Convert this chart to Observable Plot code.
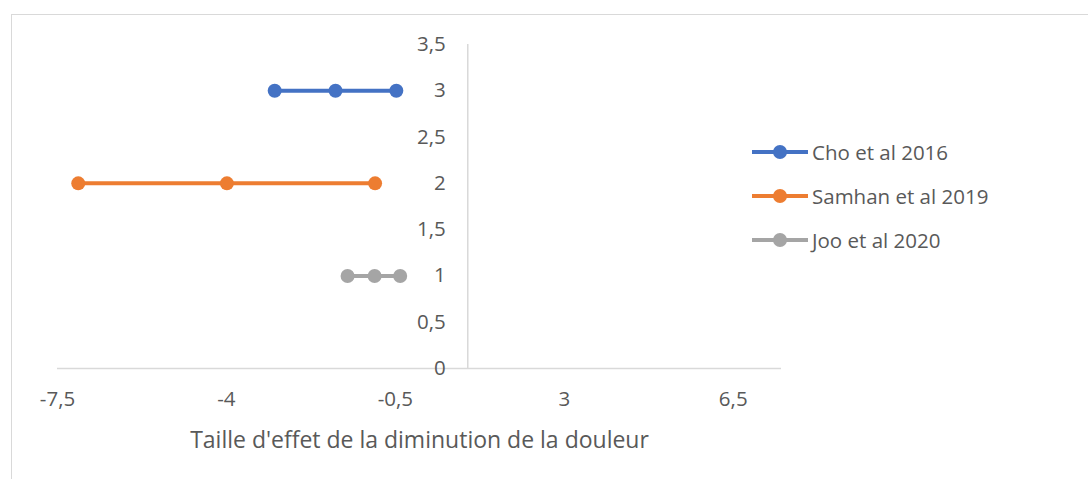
<!DOCTYPE html>
<html><head><meta charset="utf-8">
<script src="https://cdn.jsdelivr.net/npm/d3@7"></script>
<script src="https://cdn.jsdelivr.net/npm/@observablehq/plot@0.6"></script>
<style>
body{margin:0;background:#fff;font-family:"Open Sans",sans-serif;}
#wrap{position:relative;width:1088px;height:479px;overflow:hidden;}
#border{position:absolute;left:11px;top:14px;width:1200px;height:600px;border:1.5px solid #d9d9d9;box-sizing:border-box;}
#chart{position:absolute;left:0;top:0;}
#legend{position:absolute;left:752px;top:130px;color:#595959;font-size:20.5px;}
.row{display:flex;align-items:center;height:44px;}
.row svg{margin-right:2px;}
</style></head><body>
<div id="wrap"><div id="border"></div><div id="chart"></div><div id="legend"></div></div>
<script>
const series = ["Cho et al 2016", "Samhan et al 2019", "Joo et al 2020"];
const seriesY = [3, 2, 1];
const lowerCI = [-3.0, -7.07, -1.49];
const effect = [-1.74, -3.99, -0.93];
const upperCI = [-0.48, -0.92, -0.40];
const colors = ["#4472C4", "#ED7D31", "#A5A5A5"];
const xTicks = [-7.5, -4, -0.5, 3, 6.5];
const yTicks = [0, 0.5, 1, 1.5, 2, 2.5, 3, 3.5];
const xDomain = [-7.5, 7.5];
const yDomain = [0, 3.5];
const yAxisCrossX = 1;
const xLabel = "Taille d'effet de la diminution de la douleur";

const points = [];
series.forEach((s, i) => {
  [lowerCI[i], effect[i], upperCI[i]].forEach(v => points.push({series: s, x: v, y: seriesY[i]}));
});
const fmt = d => String(d).replace(".", ",");
const txt = "#595959", axisCol = "#d9d9d9";

const chart = Plot.plot({
  width: 1088, height: 479,
  marginLeft: 57, marginRight: 307, marginTop: 44, marginBottom: 111,
  x: {domain: xDomain},
  y: {domain: yDomain, axis: null},
  color: {domain: series, range: colors},
  style: {fontFamily: "'Open Sans', sans-serif", fontSize: "20px", color: txt, background: "transparent"},
  marks: [
    Plot.ruleY([0], {stroke: axisCol, strokeWidth: 1.5}),
    Plot.ruleX([yAxisCrossX], {y1: yDomain[0], y2: yDomain[1], stroke: axisCol, strokeWidth: 1.5}),
    Plot.axisX({ticks: xTicks, tickSize: 0, tickPadding: 23, tickFormat: fmt, fontSize: 20.5, label: null}),
    Plot.text(yTicks, {x: () => yAxisCrossX, y: d => d, text: fmt, dx: -22, textAnchor: "end", fill: txt, fontSize: 20.5}),
    Plot.text([xLabel], {frameAnchor: "bottom", dy: 79, fontSize: 23, fill: txt}),
    Plot.line(points, {x: "x", y: "y", z: "series", stroke: "series", strokeWidth: 4}),
    Plot.dot(points, {x: "x", y: "y", fill: "series", r: 7})
  ]
});
document.getElementById("chart").appendChild(chart);

const legend = document.getElementById("legend");
series.forEach((s, i) => {
  const row = document.createElement("div");
  row.className = "row";
  row.innerHTML = `<svg width="58" height="20"><line x1="0" x2="56" y1="10" y2="10" stroke="${colors[i]}" stroke-width="4"/><circle cx="28" cy="10" r="7" fill="${colors[i]}"/></svg><span>${s}</span>`;
  legend.appendChild(row);
});
</script>
</body></html>
